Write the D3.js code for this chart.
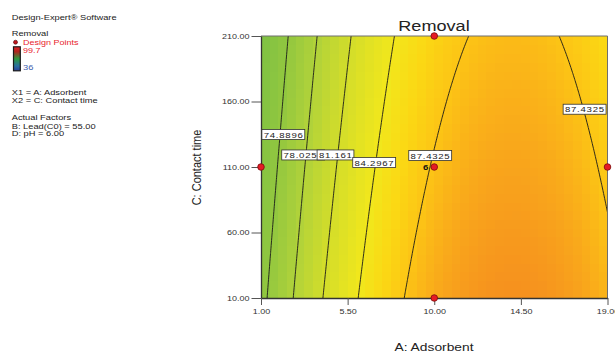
<!DOCTYPE html>
<html>
<head>
<meta charset="utf-8">
<script src="https://cdn.jsdelivr.net/npm/d3@7"></script>
<style>
  html, body { margin: 0; padding: 0; background: #fff; }
  svg { display: block; font-family: "Liberation Sans", Arial, sans-serif; }
</style>
</head>
<body>
<svg id="chart" width="615" height="352"></svg>
<script>
// Factor ranges (actual units)
const adsorbentRange = [1, 19];      // A: Adsorbent
const contactRange = [10, 210];      // C: Contact time

// Quadratic model in coded units a=(A-10)/9, c=(C-110)/100:
// [b0, bA, bC, bAC, bAA, bCC]
const modelCoef = [87.61, 7.08, -1.28, 0, -7.7, 0];

// Contour levels and where their labels sit (A, C)
const contourLevels = [74.8896, 78.0253, 81.161, 84.2967, 87.4325];
const labelText = ["74.8896", "78.0253", "81.161", "84.2967", "87.4325", "87.4325"];
const labelA = [2.16, 3.22, 4.87, 6.88, 9.79, 17.81];
const labelC = [134.8, 119.2, 119.2, 113.4, 118.8, 154.1];

// Design points
const pointA = [1, 10, 10, 19, 10];
const pointC = [110, 210, 110, 110, 10];
const pointCount = [1, 1, 6, 1, 1];

// Axis ticks
const aTicks = [1, 5.5, 10, 14.5, 19];
const cTicks = [10, 60, 110, 160, 210];

// Colour scale range of the response
const responseRange = [36, 99.7];
const colorValues = [36, 55, 71, 74.9, 78, 81.2, 84.3, 86, 87.4, 89, 90.4, 99.7];
const colorStops = ["#2b3e98", "#2a9a4a", "#7ac044", "#92c73f", "#b0d23a", "#d3dd2a",
                    "#f1e71c", "#fbd814", "#fcc515", "#f9a81b", "#f6921e", "#e31f26"];

const SX = 1.2; // horizontal text stretch

const svg = d3.select("#chart");
const plot = { left: 261, right: 607.5, top: 36, bottom: 298 };

const xs = d3.scaleLinear().domain(adsorbentRange).range([plot.left, plot.right]);
const ys = d3.scaleLinear().domain(contactRange).range([plot.bottom, plot.top]);
const color = d3.scaleLinear().domain(colorValues).range(colorStops).clamp(true);

function removal(A, C) {
  const a = (A - 10) / 9, c = (C - 110) / 100;
  const [b0, b1, b2, b12, b11, b22] = modelCoef;
  return b0 + b1 * a + b2 * c + b12 * a * c + b11 * a * a + b22 * c * c;
}

function stext(g, x, y, str, opts = {}) {
  const t = g.append("text")
    .attr("transform", `translate(${x},${y}) scale(${SX},1)` + (opts.rotate ? ` rotate(${opts.rotate})` : ""))
    .attr("font-size", opts.size || 8)
    .attr("fill", opts.fill || "#222")
    .attr("text-anchor", opts.anchor || "start")
    .text(str);
  if (opts.weight) t.attr("font-weight", opts.weight);
  if (opts.spacing) t.attr("letter-spacing", opts.spacing);
  return t;
}

// Clip for the plot area
svg.append("defs").append("clipPath").attr("id", "plotClip")
  .append("rect")
  .attr("x", plot.left).attr("y", plot.top)
  .attr("width", plot.right - plot.left).attr("height", plot.bottom - plot.top);

// Filled surface, drawn as a grid of coloured cells
const nxFill = 40, nyFill = 30;
const cells = [];
for (let j = 0; j < nyFill; j++) {
  for (let i = 0; i < nxFill; i++) {
    const A0 = adsorbentRange[0] + (i / nxFill) * (adsorbentRange[1] - adsorbentRange[0]);
    const A1 = adsorbentRange[0] + ((i + 1) / nxFill) * (adsorbentRange[1] - adsorbentRange[0]);
    const C0 = contactRange[0] + (j / nyFill) * (contactRange[1] - contactRange[0]);
    const C1 = contactRange[0] + ((j + 1) / nyFill) * (contactRange[1] - contactRange[0]);
    cells.push({ A0, A1, C0, C1, v: removal((A0 + A1) / 2, (C0 + C1) / 2) });
  }
}
const surf = svg.append("g").attr("clip-path", "url(#plotClip)");
surf.selectAll("rect").data(cells).join("rect")
  .attr("x", d => xs(d.A0))
  .attr("y", d => ys(d.C1))
  .attr("width", d => xs(d.A1) - xs(d.A0) + 0.6)
  .attr("height", d => ys(d.C0) - ys(d.C1) + 0.6)
  .attr("fill", d => color(d.v))
  .attr("shape-rendering", "crispEdges");

// Contour lines
const nx = 181, ny = 101;
const grid = new Array(nx * ny);
for (let j = 0; j < ny; j++) {
  for (let i = 0; i < nx; i++) {
    const A = adsorbentRange[0] + i * (adsorbentRange[1] - adsorbentRange[0]) / (nx - 1);
    const C = contactRange[0] + j * (contactRange[1] - contactRange[0]) / (ny - 1);
    grid[j * nx + i] = removal(A, C);
  }
}
const contours = d3.contours().size([nx, ny]).thresholds(contourLevels)(grid);
const proj = d3.geoTransform({
  point(gx, gy) {
    const A = adsorbentRange[0] + (gx - 0.5) * (adsorbentRange[1] - adsorbentRange[0]) / (nx - 1);
    const C = contactRange[0] + (gy - 0.5) * (contactRange[1] - contactRange[0]) / (ny - 1);
    this.stream.point(xs(A), ys(C));
  }
});
svg.append("g").attr("clip-path", "url(#plotClip)")
  .selectAll("path").data(contours).join("path")
  .attr("d", d3.geoPath(proj))
  .attr("fill", "none")
  .attr("stroke", "#1a1a1a")
  .attr("stroke-width", 0.9);

// Frame (top and right edges)
svg.append("path")
  .attr("d", `M${plot.left},${plot.top}H${plot.right}V${plot.bottom}`)
  .attr("fill", "none").attr("stroke", "#6e6e6e").attr("stroke-width", 1);

// Axes
const yAxis = d3.axisLeft(ys).tickValues(cTicks).tickFormat(d3.format(".2f"))
  .tickSize(9.5).tickSizeOuter(0).tickPadding(2);
const gy = svg.append("g").attr("transform", `translate(${plot.left},0)`).call(yAxis);
gy.selectAll(".tick text")
  .attr("x", -11.5 / SX)
  .attr("transform", `scale(${SX},1)`)
  .attr("font-size", 7.5).attr("fill", "#333")
  .attr("font-family", null);

const xAxis = d3.axisBottom(xs).tickValues(aTicks).tickFormat(d3.format(".2f"))
  .tickSize(7).tickSizeOuter(0).tickPadding(4);
const gx = svg.append("g").attr("transform", `translate(0,${plot.bottom})`).call(xAxis);
gx.selectAll(".tick text")
  .attr("transform", `scale(${SX},1)`)
  .attr("font-size", 7.5).attr("fill", "#333")
  .attr("font-family", null);

[gx, gy].forEach(g => {
  g.select(".domain").attr("stroke", "#333").attr("stroke-width", 1.3);
  g.selectAll(".tick line").attr("stroke", "#555");
});

// Contour labels: white boxes sized to their text
const labels = svg.append("g");
labelText.forEach((s, k) => {
  const cx = xs(labelA[k]), cy = ys(labelC[k]);
  const h = 10;
  const g = labels.append("g");
  const box = g.append("rect")
    .attr("fill", "#fff").attr("stroke", "#333").attr("stroke-width", 0.8);
  const t = stext(g, 0, cy + 3.2, s, { size: 8, spacing: 0.62, fill: "#222" });
  const w = t.node().getComputedTextLength() * SX + 3;
  const x0 = (k === 1 ? cx - 22 : cx - w / 2);
  t.attr("transform", `translate(${x0 + 1.8},${cy + 3.2}) scale(${SX},1)`);
  box.attr("x", x0).attr("y", cy - h / 2).attr("width", w).attr("height", h);
});

// Design points
const pts = svg.append("g");
pointA.forEach((A, k) => {
  pts.append("circle")
    .attr("cx", xs(A)).attr("cy", ys(pointC[k])).attr("r", 3.3)
    .attr("fill", "#e51b24").attr("stroke", "#7a0c0c").attr("stroke-width", 0.8);
  if (pointCount[k] > 1) {
    stext(pts, xs(A) - 6, ys(pointC[k]) + 2.8, String(pointCount[k]),
          { size: 8, anchor: "end", weight: "bold", fill: "#111" });
  }
});

// Title and axis titles
stext(svg, 434, 31, "Removal", { size: 15.1, anchor: "middle", fill: "#222" });
stext(svg, 434, 350.5, "A: Adsorbent", { size: 11.5, anchor: "middle", fill: "#222" });
stext(svg, 200.5, 167.5, "C: Contact time", { size: 11, anchor: "middle", rotate: -90, fill: "#222" });

// Side notes and colour legend
const side = svg.append("g");
stext(side, 11.7, 20, "Design-Expert\u00ae Software", { size: 7.75 });
stext(side, 11.7, 36, "Removal", { size: 7.75 });
side.append("circle").attr("cx", 15.5).attr("cy", 42.2).attr("r", 2)
  .attr("fill", "#c0141c").attr("stroke", "#4a0a0a").attr("stroke-width", 0.6);
stext(side, 23, 44.8, "Design Points", { size: 7.5, fill: "#e8242c" });

const grad = svg.select("defs").append("linearGradient")
  .attr("id", "legendGrad").attr("x1", 0).attr("y1", 0).attr("x2", 0).attr("y2", 1);
[["0%", "#e31f26"], ["20%", "#b0251e"], ["50%", "#2c9a3f"], ["80%", "#2a6fa0"], ["100%", "#2b3e98"]]
  .forEach(([o, c]) => grad.append("stop").attr("offset", o).attr("stop-color", c));
side.append("rect").attr("x", 13.5).attr("y", 46.8).attr("width", 6.8).attr("height", 24)
  .attr("fill", "url(#legendGrad)").attr("stroke", "#1a1a1a").attr("stroke-width", 1.2);
stext(side, 23, 53.2, String(responseRange[1]), { size: 7.5, fill: "#e8242c" });
stext(side, 23, 70, String(responseRange[0]), { size: 7.75, fill: "#3f5fb0" });

stext(side, 11.7, 95, "X1 = A: Adsorbent", { size: 7.75 });
stext(side, 11.7, 102.7, "X2 = C: Contact time", { size: 7.75 });
stext(side, 11.7, 120, "Actual Factors", { size: 7.75 });
stext(side, 11.7, 128.5, "B: Lead(C0) = 55.00", { size: 7.75 });
stext(side, 11.7, 136, "D: pH = 6.00", { size: 7.75 });
</script>
</body>
</html>
